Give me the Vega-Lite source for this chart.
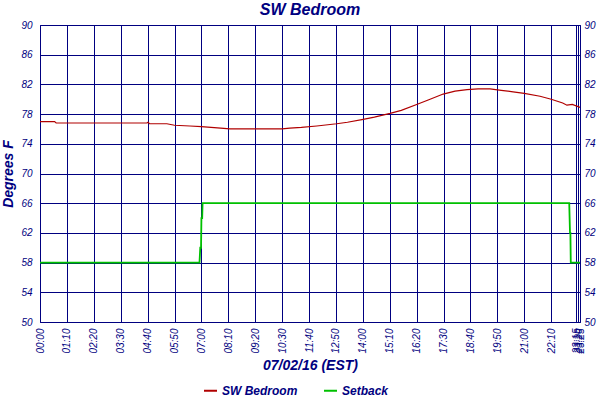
{
  "$schema": "https://vega.github.io/schema/vega-lite/v6.json",
  "width": 540,
  "height": 297,
  "autosize": {"type": "none"},
  "padding": {"left": 40, "top": 25, "right": 20, "bottom": 78},
  "background": "white",
  "title": {"text": "SW Bedroom", "font": "Liberation Sans", "fontSize": 16, "fontStyle": "italic", "fontWeight": "bold", "color": "#000080", "offset": 2},
  "config": {
    "view": {"stroke": "#000080", "strokeWidth": 1},
    "axis": {"labelFont": "Liberation Sans", "labelFontStyle": "italic", "labelFontSize": 10, "labelColor": "#000080", "titleFont": "Liberation Sans", "titleFontStyle": "italic", "titleFontWeight": "bold", "titleFontSize": 14, "titleColor": "#000080", "ticks": false, "domainColor": "#000080", "gridColor": "#000080", "gridOpacity": 1, "gridWidth": 1}
  },
  "data": {"values": [
    {"t": 0, "v": 77.0, "s": "SW Bedroom"},
    {"t": 38, "v": 77.0, "s": "SW Bedroom"},
    {"t": 42, "v": 76.8, "s": "SW Bedroom"},
    {"t": 120, "v": 76.8, "s": "SW Bedroom"},
    {"t": 200, "v": 76.8, "s": "SW Bedroom"},
    {"t": 278, "v": 76.8, "s": "SW Bedroom"},
    {"t": 281, "v": 76.9, "s": "SW Bedroom"},
    {"t": 285, "v": 76.7, "s": "SW Bedroom"},
    {"t": 330, "v": 76.7, "s": "SW Bedroom"},
    {"t": 350, "v": 76.5, "s": "SW Bedroom"},
    {"t": 390, "v": 76.4, "s": "SW Bedroom"},
    {"t": 420, "v": 76.3, "s": "SW Bedroom"},
    {"t": 445, "v": 76.2, "s": "SW Bedroom"},
    {"t": 470, "v": 76.1, "s": "SW Bedroom"},
    {"t": 494, "v": 76.0, "s": "SW Bedroom"},
    {"t": 540, "v": 76.0, "s": "SW Bedroom"},
    {"t": 600, "v": 76.0, "s": "SW Bedroom"},
    {"t": 630, "v": 76.0, "s": "SW Bedroom"},
    {"t": 650, "v": 76.1, "s": "SW Bedroom"},
    {"t": 680, "v": 76.2, "s": "SW Bedroom"},
    {"t": 720, "v": 76.4, "s": "SW Bedroom"},
    {"t": 772, "v": 76.7, "s": "SW Bedroom"},
    {"t": 800, "v": 76.9, "s": "SW Bedroom"},
    {"t": 841, "v": 77.3, "s": "SW Bedroom"},
    {"t": 870, "v": 77.6, "s": "SW Bedroom"},
    {"t": 911, "v": 78.1, "s": "SW Bedroom"},
    {"t": 940, "v": 78.5, "s": "SW Bedroom"},
    {"t": 980, "v": 79.3, "s": "SW Bedroom"},
    {"t": 1010, "v": 79.9, "s": "SW Bedroom"},
    {"t": 1049, "v": 80.7, "s": "SW Bedroom"},
    {"t": 1080, "v": 81.1, "s": "SW Bedroom"},
    {"t": 1111, "v": 81.3, "s": "SW Bedroom"},
    {"t": 1140, "v": 81.4, "s": "SW Bedroom"},
    {"t": 1171, "v": 81.4, "s": "SW Bedroom"},
    {"t": 1200, "v": 81.2, "s": "SW Bedroom"},
    {"t": 1231, "v": 81.0, "s": "SW Bedroom"},
    {"t": 1260, "v": 80.8, "s": "SW Bedroom"},
    {"t": 1301, "v": 80.4, "s": "SW Bedroom"},
    {"t": 1330, "v": 80.0, "s": "SW Bedroom"},
    {"t": 1360, "v": 79.5, "s": "SW Bedroom"},
    {"t": 1371, "v": 79.2, "s": "SW Bedroom"},
    {"t": 1385, "v": 79.3, "s": "SW Bedroom"},
    {"t": 1405, "v": 78.9, "s": "SW Bedroom"},
    {"t": 0, "v": 58, "s": "Setback"},
    {"t": 415, "v": 58, "s": "Setback"},
    {"t": 417, "v": 60, "s": "Setback"},
    {"t": 419, "v": 60, "s": "Setback"},
    {"t": 420, "v": 64, "s": "Setback"},
    {"t": 422, "v": 64, "s": "Setback"},
    {"t": 423, "v": 66, "s": "Setback"},
    {"t": 1377, "v": 66, "s": "Setback"},
    {"t": 1379, "v": 62, "s": "Setback"},
    {"t": 1380, "v": 62, "s": "Setback"},
    {"t": 1381, "v": 58, "s": "Setback"},
    {"t": 1405, "v": 58, "s": "Setback"}
  ]},
  "encoding": {
    "x": {"field": "t", "type": "quantitative",
      "scale": {"domain": [0, 1405], "nice": false, "zero": false},
      "axis": {"title": "07/02/16 (EST)", "values": [0,70,140,210,280,350,420,490,560,630,700,770,840,910,980,1050,1120,1190,1260,1330,1395,1400,1405],
        "labelExpr": "pad(floor(datum.value/60),2,'0','left') + ':' + pad(datum.value%60,2,'0','left')",
        "labelAngle": 270, "labelOverlap": false, "labelFlush": false, "labelPadding": 6, "titlePadding": 5, "grid": true, "domain": false}},
    "color": {"field": "s", "type": "nominal",
      "scale": {"domain": ["SW Bedroom", "Setback"], "range": ["#b00000", "#00c000"]},
      "legend": {"title": null, "orient": "none", "legendX": 163, "legendY": 358, "direction": "horizontal",
        "symbolType": "stroke", "symbolSize": 169, "symbolStrokeWidth": 2, "columnPadding": 22,
        "labelFont": "Liberation Sans", "labelFontStyle": "italic", "labelFontWeight": "bold", "labelFontSize": 12, "labelColor": "#000080"}}
  },
  "layer": [
    {
      "transform": [{"filter": "datum.s === 'SW Bedroom'"}],
      "mark": {"type": "line", "strokeWidth": 1.2},
      "encoding": {
        "y": {"field": "v", "type": "quantitative", "scale": {"domain": [50, 90], "nice": false, "zero": false},
          "axis": {"title": "Degrees F", "orient": "left", "values": [50,54,58,62,66,70,74,78,82,86,90], "labelPadding": 8, "titlePadding": 5, "grid": true, "domain": false}}
      }
    },
    {
      "transform": [{"filter": "datum.s === 'Setback'"}],
      "mark": {"type": "line", "strokeWidth": 1.8},
      "encoding": {
        "y": {"field": "v", "type": "quantitative", "scale": {"domain": [50, 90], "nice": false, "zero": false},
          "axis": {"title": null, "orient": "right", "values": [50,54,58,62,66,70,74,78,82,86,90], "labelPadding": 4, "grid": false, "domain": false}}
      }
    }
  ],
  "resolve": {"axis": {"y": "independent"}}
}
